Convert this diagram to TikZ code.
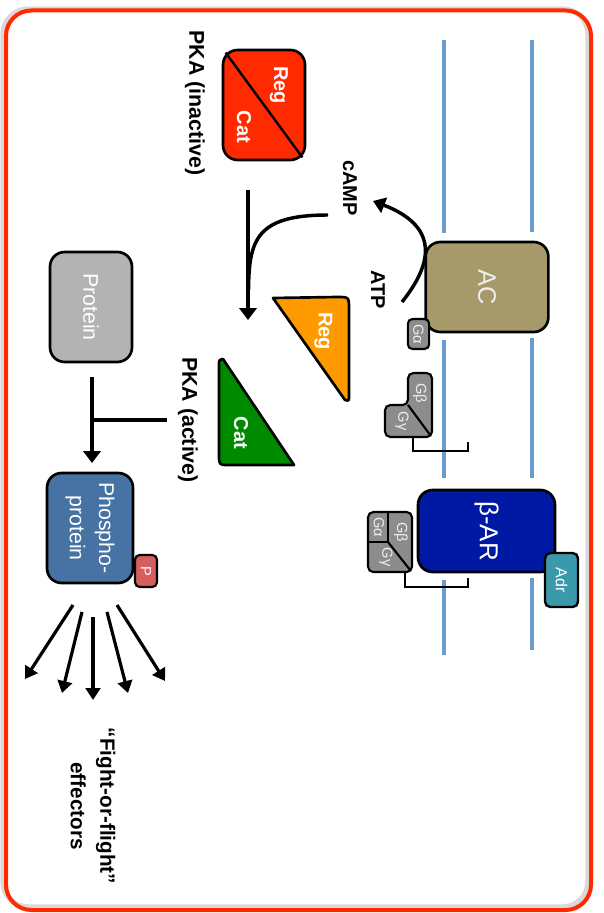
\documentclass[tikz,border=0pt]{standalone}
\usepackage{fontspec}
\setmainfont{Liberation Sans}
\usetikzlibrary{arrows.meta,calc}
\definecolor{borderred}{RGB}{255,42,0}
\definecolor{membblue}{RGB}{108,155,208}
\definecolor{acfill}{RGB}{166,154,106}
\definecolor{pkared}{RGB}{255,42,0}
\definecolor{regorange}{RGB}{255,153,0}
\definecolor{catgreen}{RGB}{0,138,0}
\definecolor{protgray}{RGB}{179,179,179}
\definecolor{phosblue}{RGB}{70,115,163}
\definecolor{pred}{RGB}{211,95,95}
\definecolor{arblue}{RGB}{0,25,165}
\definecolor{adrteal}{RGB}{58,154,171}
\definecolor{ggray}{RGB}{140,140,140}
\definecolor{gtext}{RGB}{238,238,238}
\begin{document}
\begin{tikzpicture}[x=0.75pt,y=-0.75pt,
  box/.style={draw=black,line width=2pt,rounded corners=11pt,inner sep=0pt,text=white},
  rbox/.style={box,rotate=-90},
  gbox/.style={draw=black,line width=1.6pt,rounded corners=3.5pt,inner sep=0pt,text=gtext,fill=ggray,rotate=-90,font=\fontsize{11}{12}\selectfont},
  gtxt/.style={rotate=-90,inner sep=0pt,text=gtext,font=\fontsize{11}{12}\selectfont},
  lbl/.style={rotate=-90,font=\bfseries\fontsize{16}{19}\selectfont,inner sep=0pt},
  intxt/.style={rotate=-90,font=\bfseries\fontsize{15}{18}\selectfont,inner sep=0pt,text=white},
  arr/.style={line width=2.6pt,-{Triangle[width=13pt,length=9pt]}},
  fan/.style={line width=2.4pt,-{Triangle[width=11pt,length=9pt]}},
  memb/.style={line width=2.4pt,draw=membblue},
  anchorline/.style={line width=1.5pt,line join=miter}
]
\useasboundingbox (0,0) rectangle (603,913);
% frame
\draw[line width=4pt,draw=black!15,rounded corners=19pt] (3,9) rectangle (588,907);
\draw[line width=3pt,draw=borderred,rounded corners=19pt] (6,10.5) rectangle (591,910);
% membrane
\draw[memb] (444,40) -- (444,233);
\draw[memb] (444,340) -- (444,478);
\draw[memb] (444,580) -- (444,655);
\draw[memb] (532,40) -- (532,232);
\draw[memb] (532,338) -- (532,478);
\draw[memb] (532,578) -- (532,650);
% adenylyl cyclase
\node[rbox,fill=acfill,text=gtext,minimum width=67.5pt,minimum height=92pt,font=\fontsize{19}{22}\selectfont] (ac) at (487,287) {AC};
\node[gbox,minimum width=22.5pt,minimum height=16pt] (gaac) at (418.5,334) {Gα};
% G beta gamma dimer
\draw[fill=ggray,line width=1.6pt,rounded corners=4pt] (408,373) -- (432,373) -- (432,437) -- (385,437) -- (385,405) -- (408,405) -- cycle;
\draw[line width=1.6pt] (408,405) -- (430.5,435.5);
\node[gtxt] (gbd) at (420,393) {Gβ};
\node[gtxt] (ggd) at (402,421) {Gγ};
\draw[anchorline] (413,437) -- (413,451) -- (468,451) -- (468,442);
% beta-AR
\node[rbox,fill=arblue,minimum width=61.5pt,minimum height=102.75pt,font=\fontsize{19.5}{22}\selectfont] (bar) at (486.5,531) {β-AR};
\node[box,rotate=-90,fill=adrteal,rounded corners=4pt,line width=1.8pt,minimum width=40.5pt,minimum height=24.75pt,font=\fontsize{12}{13}\selectfont] (adr) at (561.5,580) {Adr};
% trimer
\node[draw=black,fill=ggray,line width=1.6pt,rounded corners=4pt,minimum width=33pt,minimum height=45pt,inner sep=0pt] (trimer) at (390,542) {};
\draw[line width=1.6pt] (388,512) -- (388,542) -- (368,542);
\draw[line width=1.6pt] (388,542) -- (410.5,570.5);
\node[gtxt] (gat) at (379,527) {Gα};
\node[gtxt] (gbt) at (401,532) {Gβ};
\node[gtxt] (ggt) at (386,557) {Gγ};
\draw[anchorline] (405,572) -- (405,587) -- (468,587) -- (468,578);
% ATP -> cAMP
\node[lbl,font=\bfseries\fontsize{15}{18}\selectfont] (atp) at (378,290) {ATP};
\node[lbl,font=\bfseries\fontsize{15}{18}\selectfont] (camp) at (350,188) {cAMP};
\coordinate (atpS) at (402,302);
\coordinate (campE) at (373,201);
\draw[line width=2.6pt,-{Triangle[width=12pt,length=9pt]}] (atpS) .. controls (434,262) and (438,226) .. (campE);
% PKA inactive
\node[draw=black,fill=pkared,line width=2pt,rounded corners=11pt,minimum width=61.5pt,minimum height=82.5pt,inner sep=0pt] (pka) at (264,105) {};
\draw[line width=1.8pt] ($(pka.north west)+(4,4)$) -- ($(pka.south east)+(-4,-4)$);
\node[intxt] (pkareg) at (279,85) {Reg};
\node[intxt] (pkacat) at (244,127) {Cat};
\node[lbl] (pkain) at (195,103) {PKA (inactive)};
% PKA activation arrows
\coordinate (splitT) at (248,190);
\coordinate (splitE) at (248,320);
\draw[arr] (splitT) -- (splitE);
\coordinate (campS) at (328,215);
\draw[line width=2.6pt] (campS) .. controls (256,215) and (249,240) .. (248.5,290);
% Reg and Cat halves
\draw[fill=regorange,line width=2pt,line join=round] (273,298) -- (337,297) .. controls (349,297) .. (349,309) -- (349,395) .. controls (349,401) .. (345,400) -- cycle;
\node[intxt] (reg) at (323.5,331) {Reg};
\draw[fill=catgreen,line width=2pt,line join=round] (223,359) .. controls (219,360) .. (219,365) -- (219,455) .. controls (219,465) .. (229,465) -- (294,465) -- cycle;
\node[intxt] (cat) at (241,433) {Cat};
\node[lbl] (pkaact) at (188,420) {PKA (active)};
% protein
\node[rbox,fill=protgray,minimum width=82.5pt,minimum height=61.5pt,font=\fontsize{16}{19}\selectfont] (prot) at (91,307) {Protein};
\node[rbox,fill=phosblue,minimum width=82.5pt,minimum height=64.5pt,align=center,font=\fontsize{16}{22}\selectfont] (phos) at (90,528) {Phospho-\\protein};
\node[box,rotate=-90,fill=pred,rounded corners=3.5pt,line width=1.6pt,minimum width=24pt,minimum height=16.5pt,font=\fontsize{11}{13}\selectfont] (p) at (146,571) {P};
\coordinate (protS) at (92,377);
\coordinate (phosE) at (92,463);
\draw[arr] (protS) -- (phosE);
\coordinate (tS) at (167,420);
\coordinate (tE) at (92,420);
\draw[line width=2.6pt] (tS) -- (tE);
% fan of effector arrows
\coordinate (f1s) at (73,605); \coordinate (f1e) at (25,679);
\coordinate (f2s) at (82,612); \coordinate (f2e) at (62,693);
\coordinate (f3s) at (93,617); \coordinate (f3e) at (93,700);
\coordinate (f4s) at (107,612); \coordinate (f4e) at (128,693);
\coordinate (f5s) at (117,605); \coordinate (f5e) at (165,681);
\foreach \i in {1,...,5} \draw[fan] (f\i s) -- (f\i e);
\node[lbl,align=center,font=\bfseries\fontsize{15.5}{22}\selectfont] (eff) at (93,806) {``Fight-or-flight''\\effectors};
\end{tikzpicture}
\end{document}
